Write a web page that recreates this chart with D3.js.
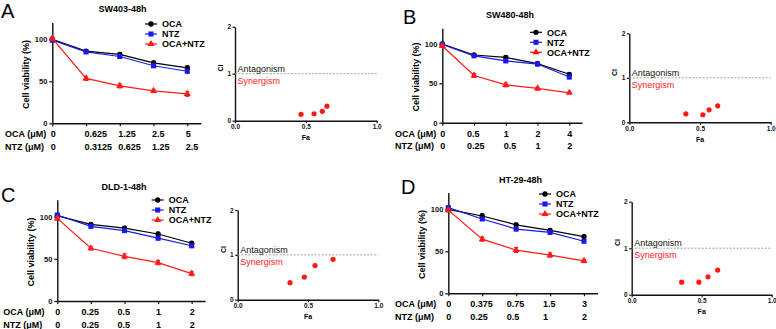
<!DOCTYPE html>
<html>
<head>
<meta charset="utf-8">
<script src="https://cdn.jsdelivr.net/npm/d3@7"></script>
<style>
  body { margin: 0; background: #fff; }
  text { font-family: "Liberation Sans", Arial, sans-serif; }
</style>
</head>
<body>
<svg id="fig" width="776" height="329"></svg>
<script>
// ---- data ----
const seriesNames = ["OCA", "NTZ", "OCA+NTZ"];

// A: SW403
const ocaDoseA = ["0", "0.625", "1.25", "2.5", "5"];
const ntzDoseA = ["0", "0.3125", "0.625", "1.25", "2.5"];
const ocaA = [100, 86, 82, 72, 66];
const ntzA = [99, 85, 79.5, 68.5, 62];
const comboA = [101, 53.5, 44.5, 38.5, 35];
const ocaErrA = [1.5, 1.5, 2, 2, 2.5];
const ntzErrA = [1.5, 1.5, 1.5, 2, 2];
const comboErrA = [2, 2.5, 2.5, 2, 3];
const faA = [0.466, 0.558, 0.616, 0.649];
const ciA = [0.135, 0.148, 0.2, 0.31];

// B: SW480
const ocaDoseB = ["0", "0.5", "1", "2", "4"];
const ntzDoseB = ["0", "0.25", "0.5", "1", "2"];
const ocaB = [100, 86, 83, 75, 61.5];
const ntzB = [99.5, 85, 78.5, 74.5, 58];
const comboB = [97.5, 60, 48, 43.5, 38];
const ocaErrB = [1.5, 1.5, 2, 2, 2];
const ntzErrB = [1.5, 1.5, 2, 2, 2];
const comboErrB = [2, 2.5, 2.5, 2, 1];
const faB = [0.40, 0.52, 0.564, 0.625];
const ciB = [0.19, 0.17, 0.28, 0.37];

// C: DLD-1
const ocaDoseC = ["0", "0.25", "0.5", "1", "2"];
const ntzDoseC = ["0", "0.25", "0.5", "1", "2"];
const ocaC = [101, 91, 86.5, 79.5, 68.5];
const ntzC = [102, 88.5, 83.5, 74.5, 65.5];
const comboC = [98, 62.5, 53, 45.5, 32.5];
const ocaErrC = [1.5, 1.5, 2, 2, 2];
const ntzErrC = [1.5, 1.5, 1.5, 2, 2];
const comboErrC = [2, 2, 3, 2.5, 2.5];
const faC = [0.372, 0.474, 0.55, 0.678];
const ciC = [0.38, 0.505, 0.76, 0.9];

// D: HT-29
const ocaDoseD = ["0", "0.375", "0.75", "1.5", "3"];
const ntzDoseD = ["0", "0.25", "0.5", "1", "2"];
const ocaD = [100, 92, 81.5, 75, 67.5];
const ntzD = [102, 88.5, 76.5, 72.5, 62];
const comboD = [99, 64.5, 51.5, 45.5, 38.5];
const ocaErrD = [1.5, 2.5, 2, 2, 2];
const ntzErrD = [1.5, 1.5, 2, 2, 2];
const comboErrD = [2, 2.5, 3, 2.5, 2];
const faD = [0.357, 0.48, 0.545, 0.614];
const ciD = [0.27, 0.27, 0.385, 0.53];

// ---- styles ----
const colors = ["#000000", "#1a1ae6", "#ff1a1a"];
const symbols = [d3.symbolCircle, d3.symbolSquare, d3.symbolTriangle];
const symSize = [22, 26, 22];
const axisColor = "#111";

// panel layout (pixel positions only)
const panels = [
  { letter: "A", lx: 1, ly: 18, title: "SW403-48h", tx: 122.5, ty: 11.5,
    x0: 52.3, x1: 187.3, y0: 123.3, y100: 39.3, legX: 145, legY: 24, rowX: 5, labelAlign: "start",
    oca: ocaA, ntz: ntzA, combo: comboA, errs: [ocaErrA, ntzErrA, comboErrA],
    ocaDose: ocaDoseA, ntzDose: ntzDoseA,
    ci: { x0: 235, x1: 376.7, y0: 120.7, y2: 26.7, fa: faA, val: ciA } },
  { letter: "B", lx: 403, ly: 23.5, title: "SW480-48h", tx: 510, ty: 18,
    x0: 442.3, x1: 569.3, y0: 122.7, y100: 44, legX: 530, legY: 32.3, rowX: 395, labelAlign: "mid",
    oca: ocaB, ntz: ntzB, combo: comboB, errs: [ocaErrB, ntzErrB, comboErrB],
    ocaDose: ocaDoseB, ntzDose: ntzDoseB,
    ci: { x0: 629.3, x1: 770.7, y0: 122.3, y2: 33.3, fa: faB, val: ciB } },
  { letter: "C", lx: 1, ly: 202, title: "DLD-1-48h", tx: 124, ty: 190,
    x0: 57.3, x1: 191.7, y0: 301, y100: 216.7, legX: 151.7, legY: 200, rowX: 3.3, labelAlign: "mid",
    oca: ocaC, ntz: ntzC, combo: comboC, errs: [ocaErrC, ntzErrC, comboErrC],
    ocaDose: ocaDoseC, ntzDose: ntzDoseC,
    ci: { x0: 237.7, x1: 378.3, y0: 299.7, y2: 210, fa: faC, val: ciC } },
  { letter: "D", lx: 401, ly: 193.5, title: "HT-29-48h", tx: 520.5, ty: 183,
    x0: 448.3, x1: 584, y0: 293.3, y100: 209.3, legX: 539, legY: 194, rowX: 395, labelAlign: "mid",
    oca: ocaD, ntz: ntzD, combo: comboD, errs: [ocaErrD, ntzErrD, comboErrD],
    ocaDose: ocaDoseD, ntzDose: ntzDoseD,
    ci: { x0: 631.7, x1: 771.7, y0: 294.7, y2: 201.7, fa: faD, val: ciD } }
];

const svg = d3.select("#fig");

function styleAxis(g, fs) {
  g.select(".domain").attr("stroke", axisColor).attr("stroke-width", 1.4);
  g.selectAll(".tick line").attr("stroke", axisColor).attr("stroke-width", 1.2);
  g.selectAll(".tick text").attr("fill", "#111").style("font-size", fs + "px")
    .style("font-weight", "bold").style("font-family", "'Liberation Sans', Arial, sans-serif");
}

// line chart with error bars
function drawViability(p) {
  const g = svg.append("g");
  const step = (p.x1 - p.x0) / 4;
  const x = d3.scaleLinear().domain([0, 4.4]).range([p.x0, p.x0 + step * 4.4]);
  const y = d3.scaleLinear().domain([0, 120]).range([p.y0, p.y0 - (p.y0 - p.y100) * 1.2]);

  g.append("text").attr("x", p.lx).attr("y", p.ly).text(p.letter)
    .style("font-size", "20px").attr("fill", "#000");
  g.append("text").attr("x", p.tx).attr("y", p.ty).attr("text-anchor", "middle")
    .text(p.title).style("font-size", "9px").style("font-weight", "bold");

  g.append("g").attr("transform", `translate(${p.x0},0)`)
    .call(d3.axisLeft(y).tickValues([0, 50, 100]).tickSize(3).tickSizeOuter(0).tickPadding(2))
    .call(a => styleAxis(a, 7.5));
  g.append("g").attr("transform", `translate(0,${p.y0})`)
    .call(d3.axisBottom(x).tickValues([0, 1, 2, 3, 4]).tickFormat("").tickSize(3).tickSizeOuter(0))
    .call(a => styleAxis(a, 7.5));

  g.append("text")
    .attr("transform", `translate(${p.x0 - 23},${y(58)}) rotate(-90)`)
    .attr("text-anchor", "middle").text("Cell viability (%)")
    .style("font-size", "9px").style("font-weight", "bold");

  const series = [p.oca, p.ntz, p.combo];
  const line = d3.line().x((d, i) => x(i)).y(d => y(d));
  series.forEach((vals, s) => {
    const c = colors[s];
    g.append("path").datum(vals).attr("d", line)
      .attr("fill", "none").attr("stroke", c).attr("stroke-width", 1.2);
    const eb = g.append("g").attr("stroke", c).attr("stroke-width", 1);
    vals.forEach((v, i) => {
      const e = p.errs[s][i];
      eb.append("line").attr("x1", x(i)).attr("x2", x(i)).attr("y1", y(v - e)).attr("y2", y(v + e));
      eb.append("line").attr("x1", x(i) - 2).attr("x2", x(i) + 2).attr("y1", y(v - e)).attr("y2", y(v - e));
      eb.append("line").attr("x1", x(i) - 2).attr("x2", x(i) + 2).attr("y1", y(v + e)).attr("y2", y(v + e));
    });
    g.selectAll(null).data(vals).join("path")
      .attr("transform", (d, i) => `translate(${x(i)},${y(d)})`)
      .attr("d", d3.symbol(symbols[s], symSize[s])).attr("fill", c);
  });

  // legend
  seriesNames.forEach((name, s) => {
    const ly = p.legY + s * 10;
    g.append("line").attr("x1", p.legX).attr("x2", p.legX + 12).attr("y1", ly).attr("y2", ly)
      .attr("stroke", colors[s]).attr("stroke-width", 1.2);
    g.append("path").attr("transform", `translate(${p.legX + 6},${ly})`)
      .attr("d", d3.symbol(symbols[s], symSize[s])).attr("fill", colors[s]);
    g.append("text").attr("x", p.legX + 17).attr("y", ly + 3.3).text(name)
      .style("font-size", "9px").style("font-weight", "bold");
  });

  // dose table under the x axis
  const rows = [["OCA (μM)", p.ocaDose], ["NTZ (μM)", p.ntzDose]];
  rows.forEach(([lab, doses], r) => {
    const ry = p.y0 + 13.8 + r * 12.8;
    g.append("text").attr("x", p.rowX).attr("y", ry).text(lab)
      .style("font-size", "9px").style("font-weight", "bold");
    doses.forEach((d, i) => {
      let sx = x(i) - 1.5;
      if (p.labelAlign === "mid") sx = x(i) - p.ocaDose[i].length * 2.5 + 0.5;
      g.append("text").attr("x", sx).attr("y", ry).text(d)
        .style("font-size", "9px").style("font-weight", "bold");
    });
  });
}

// combination index scatter
function drawCI(p) {
  const c = p.ci;
  const g = svg.append("g");
  const x = d3.scaleLinear().domain([0, 1]).range([c.x0, c.x1]);
  const y = d3.scaleLinear().domain([0, 2]).range([c.y0, c.y2]);

  g.append("g").attr("transform", `translate(${c.x0},0)`)
    .call(d3.axisLeft(y).tickValues([0, 1, 2]).tickFormat(d3.format("d")).tickSize(2.5).tickSizeOuter(0).tickPadding(1.5))
    .call(a => styleAxis(a, 6.5));
  g.append("g").attr("transform", `translate(0,${c.y0})`)
    .call(d3.axisBottom(x).tickValues([0, 0.5, 1]).tickFormat(d3.format(".1f")).tickSize(2.5).tickSizeOuter(0).tickPadding(1.5))
    .call(a => styleAxis(a, 6.5));

  g.append("line").attr("x1", x(0)).attr("x2", x(1)).attr("y1", y(1)).attr("y2", y(1))
    .attr("stroke", "#999").attr("stroke-width", 0.9).attr("stroke-dasharray", "2,1.5");
  g.append("text").attr("x", x(0) + 2.5).attr("y", y(1) - 1.8).text("Antagonism")
    .style("font-size", "9px").attr("fill", "#111");
  g.append("text").attr("x", x(0) + 2.5).attr("y", y(1) + 9.8).text("Synergism")
    .style("font-size", "9px").attr("fill", "#ff1a1a");

  g.append("text").attr("transform", `translate(${c.x0 - 12},${y(1.12)}) rotate(-90)`)
    .attr("text-anchor", "middle").text("CI").style("font-size", "7px").style("font-weight", "bold");
  g.append("text").attr("x", x(0.5)).attr("y", c.y0 + 19.5).attr("text-anchor", "middle")
    .text("Fa").style("font-size", "7px").style("font-weight", "bold");

  g.selectAll("circle").data(c.fa).join("circle")
    .attr("cx", d => x(d)).attr("cy", (d, i) => y(c.val[i]))
    .attr("r", 2.6).attr("fill", "#ff1a1a");
}

panels.forEach(p => {
  drawViability(p);
  drawCI(p);
});
</script>
</body>
</html>
